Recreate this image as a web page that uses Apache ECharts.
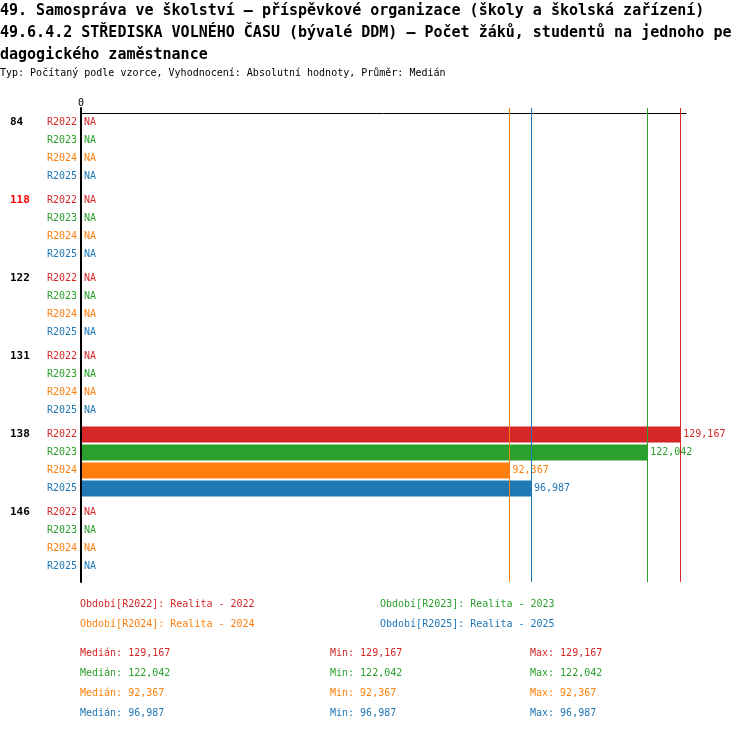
<!DOCTYPE html>
<html>
<head>
<meta charset="utf-8">
<script src="https://cdn.jsdelivr.net/npm/echarts@6/dist/echarts.min.js"></script>
<style>
  html, body { margin: 0; padding: 0; background: #fff; }
  #main { width: 750px; height: 732px; }
</style>
</head>
<body>
<div id="main"></div>
<script>
// skupiny (řádky grafu) a období
var groups = ['84', '118', '122', '131', '138', '146'];
var highlightGroup = '118';
var periods = ['R2022', 'R2023', 'R2024', 'R2025'];
var periodNames = ['Období[R2022]: Realita - 2022', 'Období[R2023]: Realita - 2023',
  'Období[R2024]: Realita - 2024', 'Období[R2025]: Realita - 2025'];
var colors = ['#d62728', '#2ca02c', '#ff7f0e', '#1f77b4'];

// hodnoty po obdobích, null = NA
var v2022 = [null, null, null, null, 129.167, null];
var v2023 = [null, null, null, null, 122.042, null];
var v2024 = [null, null, null, null, 92.367, null];
var v2025 = [null, null, null, null, 96.987, null];
var values = [v2022, v2023, v2024, v2025];

var axisMax = 130.4;
var font = 'DejaVu Sans Mono';

function fmt(v) {
  return v.toFixed(3).replace('.', ',');
}
function stats(arr) {
  var a = arr.filter(function (v) { return v != null; }).sort(function (x, y) { return x - y; });
  var m = a.length % 2 ? a[(a.length - 1) / 2] : (a[a.length / 2 - 1] + a[a.length / 2]) / 2;
  return { median: m, min: a[0], max: a[a.length - 1] };
}
var st = values.map(stats);

var myChart = echarts.init(document.getElementById('main'));

var grids = [], xAxes = [], yAxes = [], series = [];
var rowH = 18, groupH = 78, firstTop = 113.5;
var gLeft = 81, gRight = 64;

groups.forEach(function (g, k) {
  grids.push({ left: gLeft, right: gRight, top: firstTop + k * groupH, height: rowH * 4, outerBoundsMode: 'none' });
  xAxes.push({
    gridIndex: k, type: 'value', min: 0, max: axisMax,
    position: 'top', show: k === 0,
    axisLine: { show: true, lineStyle: { color: '#000', width: 1 } },
    axisTick: { show: false }, splitLine: { show: false },
    axisLabel: {
      margin: 5, fontSize: 10, color: '#000',
      formatter: function (v) { return v === 0 ? '0' : ''; }
    }
  });
  yAxes.push({
    gridIndex: k, type: 'category', inverse: true, data: periods, position: 'left',
    axisLine: { show: false }, axisTick: { show: false },
    axisLabel: {
      margin: 4, fontSize: 10,
      color: function (v, i) { return colors[periods.indexOf(v)]; }
    }
  });
  yAxes.push({
    gridIndex: k, type: 'category', inverse: true, data: [g, '', '', ''], position: 'left',
    axisLine: { show: false }, axisTick: { show: false },
    axisLabel: {
      margin: 71, align: 'left', fontSize: 11, fontWeight: 'bold',
      color: g === highlightGroup ? '#ff0000' : '#000'
    }
  });
  periods.forEach(function (p, pi) {
    var val = values[pi][k];
    series.push({
      name: periodNames[pi], type: 'bar',
      xAxisIndex: k, yAxisIndex: k * 2,
      barWidth: 16, barGap: '-100%',
      itemStyle: { color: colors[pi] },
      label: {
        show: true, position: 'right', distance: 3, fontSize: 10, color: colors[pi],
        formatter: function (prm) { return prm.data.na ? 'NA' : fmt(prm.value); }
      },
      data: periods.map(function (q, j) {
        if (j !== pi) return '-';
        return val == null ? { value: 0, na: true } : { value: val };
      })
    });
  });
});

// překryvná mřížka: nulová osa a čáry mediánů
var ov = groups.length;
grids.push({ left: gLeft, right: gRight, top: 108, bottom: 150, outerBoundsMode: 'none' });
xAxes.push({ gridIndex: ov, type: 'value', min: 0, max: axisMax, show: false });
yAxes.push({
  gridIndex: ov, type: 'value', min: 0, max: 1, z: 10,
  axisLine: { show: true, lineStyle: { color: '#000', width: 2 } },
  axisTick: { show: false }, axisLabel: { show: false }, splitLine: { show: false }
});
periods.forEach(function (p, pi) {
  series.push({
    name: periodNames[pi], type: 'scatter',
    xAxisIndex: ov, yAxisIndex: yAxes.length - 1,
    itemStyle: { color: colors[pi] },
    data: [],
    markLine: {
      silent: true, symbol: 'none', label: { show: false },
      lineStyle: { color: colors[pi], width: 1, type: 'solid' },
      data: [{ xAxis: st[pi].median, lineStyle: { color: colors[pi], width: 1, type: 'solid' } }]
    }
  });
});

function statText(label, key) {
  return st.map(function (s, i) { return '{c' + i + '|' + label + ': ' + fmt(s[key]) + '}'; }).join('\n');
}
var rich = {};
colors.forEach(function (c, i) {
  rich['c' + i] = { color: c, fontSize: 10, fontWeight: 'normal', lineHeight: 20, fontFamily: font };
});

myChart.setOption({
  animation: false,
  textStyle: { fontFamily: font },
  title: [{
    text: '49. Samospráva ve školství – příspěvkové organizace (školy a školská zařízení)\n' +
      '49.6.4.2 STŘEDISKA VOLNÉHO ČASU (bývalé DDM) – Počet žáků, studentů na jednoho pe\n' +
      'dagogického zaměstnance',
    left: 0, top: 0, padding: 0,
    textStyle: { fontSize: 15, fontWeight: 'bold', color: '#000', lineHeight: 22, fontFamily: font }
  }, {
    text: 'Typ: Počítaný podle vzorce, Vyhodnocení: Absolutní hodnoty, Průměr: Medián',
    left: 0, top: 67, padding: 0,
    textStyle: { fontSize: 10, fontWeight: 'normal', color: '#000', lineHeight: 12, fontFamily: font }
  }, {
    text: statText('Medián', 'median'), left: 80, top: 643, padding: 0,
    textStyle: { fontWeight: 'normal', rich: rich }
  }, {
    text: statText('Min', 'min'), left: 330, top: 643, padding: 0,
    textStyle: { fontWeight: 'normal', rich: rich }
  }, {
    text: statText('Max', 'max'), left: 530, top: 643, padding: 0,
    textStyle: { fontWeight: 'normal', rich: rich }
  }],
  legend: [0, 1].map(function (r) {
    return {
      left: 75, top: 598 + r * 20, padding: 0, icon: 'none',
      itemWidth: 0, itemHeight: 12, itemGap: 120.4,
      data: [r * 2, r * 2 + 1].map(function (i) {
        return { name: periodNames[i], textStyle: { color: colors[i], fontSize: 10, fontFamily: font } };
      })
    };
  }),
  grid: grids,
  xAxis: xAxes,
  yAxis: yAxes,
  series: series
});
</script>
</body>
</html>
